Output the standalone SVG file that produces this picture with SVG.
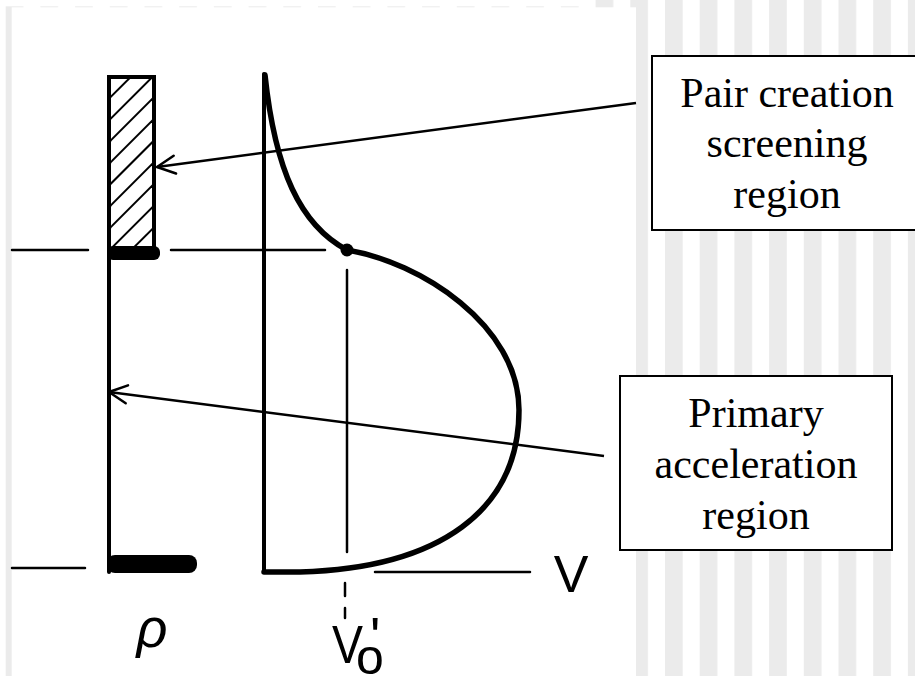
<svg xmlns="http://www.w3.org/2000/svg" width="915" height="676" viewBox="0 0 915 676">
  <style>
    .ink { stroke: #000; fill: none; stroke-linecap: round; }
    .thin { stroke-width: 2.5; }
    .med { stroke-width: 4; }
    .curve { stroke-width: 5.5; stroke-linejoin: round; }
    .hatch { stroke: #000; stroke-width: 2; }
    .box { fill: #fff; stroke: #000; stroke-width: 2; }
    .lbl { font-family: "Liberation Serif", "Times New Roman", serif; font-size: 42px; fill: #000; text-anchor: middle; }
    .sym { font-family: "Liberation Sans", Arial, sans-serif; fill: #000; }
    .conn { stroke: #000; stroke-width: 2.5; fill: none; }
  </style>
  <defs>
    <pattern id="stripes" patternUnits="userSpaceOnUse" x="5.7" y="0" width="34.7" height="676">
      <rect x="0" y="0" width="17.7" height="676" fill="#ebebeb"/>
    </pattern>
    <clipPath id="hclip">
      <rect x="111" y="79" width="41" height="169"/>
    </clipPath>
    <marker id="open" markerUnits="userSpaceOnUse" viewBox="-20 -11 22 22" refX="0" refY="0" markerWidth="22" markerHeight="22" orient="auto">
      <path d="M -18,-9 L 0,0 L -18,9" fill="none" stroke="#000" stroke-width="2.5" stroke-linecap="round" stroke-linejoin="round"/>
    </marker>
  </defs>

  <!-- slide background -->
  <rect x="0" y="0" width="915" height="676" fill="#fff"/>
  <rect x="0" y="0" width="915" height="676" fill="url(#stripes)"/>
  <rect x="0" y="0" width="595" height="6.3" fill="#fff"/>
  <!-- picture area -->
  <rect x="11.7" y="7.3" width="624.3" height="668.7" fill="#fff"/>

  <g id="rho-plot">
    <!-- hatched screening region -->
    <g clip-path="url(#hclip)">
      <line class="hatch" x1="105" y1="102.7" x2="160" y2="47.7"/>
      <line class="hatch" x1="105" y1="124.4" x2="160" y2="69.4"/>
      <line class="hatch" x1="105" y1="146.1" x2="160" y2="91.1"/>
      <line class="hatch" x1="105" y1="167.8" x2="160" y2="112.8"/>
      <line class="hatch" x1="105" y1="189.5" x2="160" y2="134.5"/>
      <line class="hatch" x1="105" y1="211.2" x2="160" y2="156.2"/>
      <line class="hatch" x1="105" y1="232.9" x2="160" y2="177.9"/>
      <line class="hatch" x1="105" y1="254.6" x2="160" y2="199.6"/>
      <line class="hatch" x1="105" y1="276.3" x2="160" y2="221.3"/>
      <line class="hatch" x1="105" y1="298" x2="160" y2="243"/>
      <line class="hatch" x1="105" y1="319.7" x2="160" y2="264.7"/>
    </g>
    <rect x="109" y="77" width="45" height="173" fill="none" stroke="#000" stroke-width="4"/>
    <line class="ink med" x1="109" y1="77" x2="109" y2="572"/>
    <rect x="107" y="246" width="53" height="14" rx="6" fill="#000"/>
    <rect x="107" y="555" width="90" height="18" rx="8" fill="#000"/>
    <line class="ink thin" x1="12" y1="250" x2="88" y2="250"/>
    <line class="ink thin" x1="12" y1="568" x2="85" y2="568"/>
    <text class="sym" x="152" y="647" font-size="54" font-style="italic" text-anchor="middle">ρ</text>
  </g>

  <g id="v-plot">
    <line class="ink thin" x1="171" y1="250" x2="325" y2="250"/>
    <line class="ink med" x1="264" y1="74" x2="264" y2="572"/>
    <path class="ink curve" d="M 265,75 C 275,170 300,225 347,250 C 420,262 519,325 519,410 C 519,510 440,568 300,572 L 264,572"/>
    <circle cx="347" cy="250" r="6.5" fill="#000"/>
    <line class="ink thin" x1="347" y1="270" x2="347" y2="552"/>
    <line class="ink thin" x1="345" y1="583" x2="345" y2="596"/>
    <line class="ink thin" x1="345" y1="608" x2="345" y2="618"/>
    <line class="ink thin" x1="375" y1="572" x2="530" y2="572"/>
    <text class="sym" x="571" y="592" font-size="52" text-anchor="middle">V</text>
    <text class="sym" font-size="54"><tspan x="332" y="663" textLength="31" lengthAdjust="spacingAndGlyphs">V</tspan><tspan x="356" y="674" font-size="50">o</tspan><tspan x="370" y="655" font-size="54">'</tspan></text>
  </g>

  <g id="node-pair">
    <rect class="box" x="652" y="56" width="272" height="174"/>
    <text class="lbl" x="787" y="107">Pair creation</text>
    <text class="lbl" x="787" y="157">screening</text>
    <text class="lbl" x="787" y="208">region</text>
  </g>

  <g id="node-primary">
    <rect class="box" x="620" y="376" width="272" height="174"/>
    <text class="lbl" x="756" y="427">Primary</text>
    <text class="lbl" x="756" y="478">acceleration</text>
    <text class="lbl" x="756" y="529">region</text>
  </g>

  <g id="connectors">
    <line class="conn" x1="636" y1="103" x2="157" y2="167" marker-end="url(#open)"/>
    <line class="conn" x1="604" y1="456" x2="109" y2="392" marker-end="url(#open)"/>
  </g>
</svg>
